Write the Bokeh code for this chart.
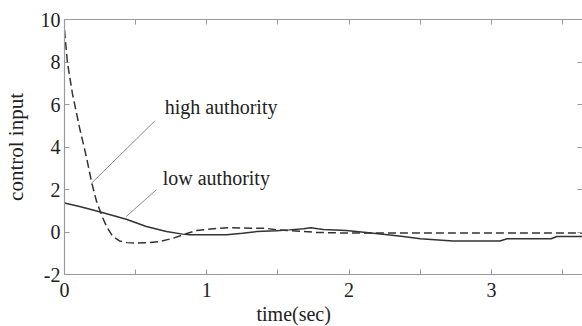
from bokeh.embed import file_html
from bokeh.models import FixedTicker, LinearAxis, Range1d, Label, Title
from bokeh.plotting import figure
from bokeh.resources import INLINE

# control input histories (time in seconds)
t_high = [0.0, 0.02, 0.056, 0.106, 0.155, 0.19, 0.225, 0.26, 0.296, 0.338, 0.387,
          0.44, 0.5, 0.6, 0.67, 0.76, 0.86, 0.93, 1.07, 1.16, 1.42, 1.49, 1.58,
          1.77, 2.0, 2.5, 3.0, 3.7]
u_high = [9.5, 8.0, 6.5, 4.9, 3.5, 2.35, 1.45, 0.8, 0.25, -0.2, -0.42,
          -0.5, -0.52, -0.5, -0.45, -0.3, -0.07, 0.07, 0.17, 0.2, 0.17, 0.1, 0.07,
          -0.02, -0.05, -0.05, -0.05, -0.05]

t_low = [0.0, 0.106, 0.246, 0.434, 0.575, 0.716, 0.83, 0.88, 1.02, 1.14, 1.25,
         1.35, 1.49, 1.58, 1.68, 1.73, 1.78, 1.82, 1.98, 2.12, 2.27, 2.38, 2.5,
         2.73, 3.06, 3.11, 3.42, 3.46, 3.7]
u_low = [1.36, 1.2, 0.95, 0.6, 0.26, 0.02, -0.1, -0.13, -0.13, -0.13, -0.06,
         0.02, 0.06, 0.1, 0.15, 0.2, 0.15, 0.12, 0.07, -0.02, -0.13, -0.21, -0.32,
         -0.42, -0.42, -0.32, -0.32, -0.21, -0.21]

x_ticks = [0, 1, 2, 3]
x_tick_labels = ["0", "1", "2", "3"]
x_minor_ticks = [0.5, 1.5, 2.5, 3.5]
y_ticks = [-2, 0, 2, 4, 6, 8, 10]
y_tick_labels = ["-2", "0", "2", "4", "6", "8", "10"]

# callout text and leader lines: (label x, label y, leader start, leader end)
callouts = [
    ("high authority", 0.704, 5.88, (0.19, 2.3), (0.634, 5.22)),
    ("low authority", 0.69, 2.53, (0.434, 0.73), (0.646, 1.99)),
]

FONT = "Liberation Serif"
AXIS_GREY = "#9a9a9a"
INK = "#222222"
CURVE = "#333333"

p = figure(
    width=582, height=326,
    output_backend="svg", toolbar_location=None,
    x_range=Range1d(0, 3.64), y_range=Range1d(-2, 10),
    x_axis_location=None, y_axis_location=None,
    min_border_left=0, min_border_right=0, min_border_top=19, min_border_bottom=0,
)
p.outline_line_color = None
p.grid.visible = False
p.background_fill_color = "white"
p.border_fill_color = "white"


def style_axis(ax, show_line=True):
    ax.axis_line_color = AXIS_GREY if show_line else None
    ax.axis_line_width = 1.2
    ax.major_tick_line_color = AXIS_GREY
    ax.minor_tick_line_color = AXIS_GREY
    ax.major_tick_in = 5
    ax.major_tick_out = 0
    ax.minor_tick_in = 5
    ax.minor_tick_out = 0
    ax.major_label_text_font = FONT
    ax.major_label_text_font_size = "20px"
    ax.major_label_text_color = INK


x_ticker = FixedTicker(ticks=x_ticks, minor_ticks=x_minor_ticks)
y_ticker = FixedTicker(ticks=y_ticks)

bottom = LinearAxis(ticker=x_ticker,
                    major_label_overrides=dict(zip(x_ticks, x_tick_labels)))
style_axis(bottom)
bottom.major_label_standoff = 8
p.add_layout(bottom, "below")

# bare tick frame on the top and right sides
top = LinearAxis(ticker=x_ticker,
                 major_label_overrides={t: "" for t in x_ticks},
                 major_label_standoff=0)
style_axis(top)
p.add_layout(top, "above")

left = LinearAxis(ticker=y_ticker,
                  major_label_overrides=dict(zip(y_ticks, y_tick_labels)),
                  axis_label="control input")
style_axis(left)
left.major_label_standoff = 4
left.axis_label_text_font = FONT
left.axis_label_text_font_size = "21px"
left.axis_label_text_font_style = "normal"
left.axis_label_text_color = INK
left.axis_label_standoff = 10
p.add_layout(left, "left")

right = LinearAxis(ticker=y_ticker,
                   major_label_overrides={t: "" for t in y_ticks},
                   major_label_standoff=0)
style_axis(right, show_line=False)
p.add_layout(right, "right")

# x axis title, set slightly left of the frame centre
p.add_layout(Title(text="time(sec)", align="left", offset=192,
                   text_font=FONT, text_font_size="20px",
                   text_font_style="normal", text_color=INK,
                   standoff=3), "below")

# the two control histories
p.line(t_high, u_high, line_color=CURVE, line_width=1.5, line_dash="8 4")
p.line(t_low, u_low, line_color=CURVE, line_width=1.5)

# callouts
for text, lx, ly, (x0, y0), (x1, y1) in callouts:
    p.segment(x0=[x0], y0=[y0], x1=[x1], y1=[y1], line_color="#8c8c8c", line_width=1)
    p.add_layout(Label(x=lx, y=ly, text=text, text_font=FONT,
                       text_font_size="20px", text_color=INK,
                       text_align="left", text_baseline="middle"))

open("out.html", "w").write(file_html(p, INLINE))
